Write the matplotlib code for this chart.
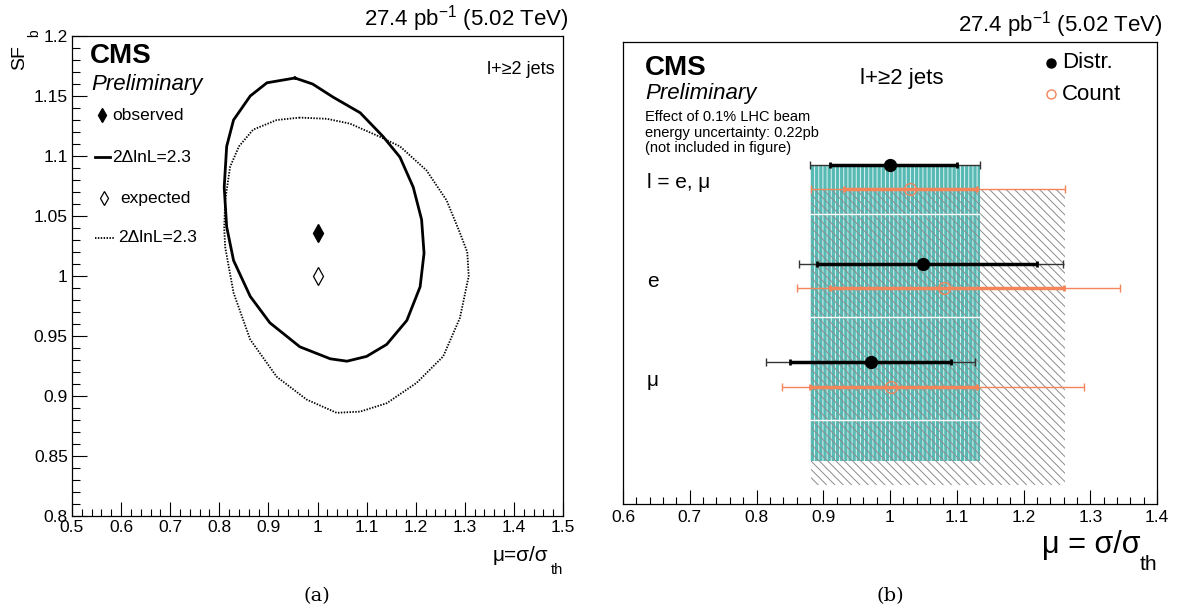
import matplotlib
matplotlib.use("Agg")
import matplotlib.pyplot as plt
from matplotlib.patches import Rectangle
from matplotlib.ticker import MultipleLocator, FuncFormatter
from matplotlib.lines import Line2D
import matplotlib.transforms as mtrans

plt.rcParams['font.family'] = ['Liberation Sans', 'DejaVu Sans']
plt.rcParams['mathtext.fontset'] = 'custom'
plt.rcParams['mathtext.rm'] = 'Liberation Sans'
plt.rcParams['mathtext.it'] = 'Liberation Sans:italic'
plt.rcParams['mathtext.bf'] = 'Liberation Sans:bold'
plt.rcParams['hatch.linewidth'] = 0.7

# ---------------- data: panel (a) -----------------
obs_mu = [0.954, 0.897, 0.863, 0.829, 0.815, 0.810, 0.815, 0.829, 0.863, 0.903,
          0.964, 1.026, 1.060, 1.100, 1.141, 1.182, 1.209, 1.217, 1.212, 1.195,
          1.168, 1.134, 1.087, 1.032, 0.990]
obs_sfb = [1.165, 1.161, 1.150, 1.130, 1.108, 1.074, 1.041, 1.013, 0.983, 0.961,
           0.941, 0.931, 0.929, 0.933, 0.943, 0.963, 0.991, 1.019, 1.047, 1.074,
           1.099, 1.116, 1.136, 1.149, 1.160]
exp_mu = [0.964, 0.917, 0.869, 0.840, 0.822, 0.812, 0.810, 0.812, 0.829, 0.863,
          0.917, 0.978, 1.039, 1.087, 1.141, 1.202, 1.256, 1.290, 1.308, 1.305,
          1.290, 1.263, 1.222, 1.168, 1.127, 1.066, 1.019]
exp_sfb = [1.132, 1.130, 1.122, 1.108, 1.091, 1.063, 1.040, 1.024, 0.986, 0.947,
           0.916, 0.897, 0.886, 0.887, 0.894, 0.911, 0.933, 0.965, 1.000, 1.020,
           1.036, 1.063, 1.088, 1.108, 1.116, 1.127, 1.131]
obs_point = (1.0, 1.036)
exp_point = (1.0, 1.0)

# ---------------- data: panel (b) -----------------
channels = ["l = e, \u03bc", "e", "\u03bc"]
distr_val = [1.000, 1.050, 0.971]
distr_in_lo = [0.910, 0.891, 0.850]
distr_in_hi = [1.101, 1.220, 1.091]
distr_tot_lo = [0.880, 0.863, 0.814]
distr_tot_hi = [1.135, 1.259, 1.127]
count_val = [1.030, 1.081, 1.001]
count_in_lo = [0.931, 0.910, 0.880]
count_in_hi = [1.130, 1.260, 1.130]
count_tot_lo = [0.881, 0.860, 0.838]
count_tot_hi = [1.262, 1.345, 1.291]

W, H = 1182, 615
fig = plt.figure(figsize=(W / 100, H / 100), dpi=100)


def fx(px):
    return px / W


def fy(py):
    return 1 - py / H


fmt = FuncFormatter(lambda v, p: '%g' % round(v, 3))
TICKFS = 12.5

# ================= panel (a) =================
axL = fig.add_axes([fx(72), fy(516), (563 - 72) / W, (516 - 36) / H])
axL.plot(obs_mu + [obs_mu[0]], obs_sfb + [obs_sfb[0]], color='black', lw=2.0)
axL.plot(exp_mu + [exp_mu[0]], exp_sfb + [exp_sfb[0]], color='black', lw=1.3,
         linestyle=(0, (0.8, 0.8)))
axL.plot([obs_point[0]], [obs_point[1]], marker='d', color='black', ms=9, ls='none')
axL.plot([exp_point[0]], [exp_point[1]], marker='d', mfc='white', mec='black',
         mew=0.9, ms=9, ls='none')
axL.set_xlim(0.5, 1.5)
axL.set_ylim(0.8, 1.2)
axL.xaxis.set_major_locator(MultipleLocator(0.1))
axL.xaxis.set_minor_locator(MultipleLocator(0.02))
axL.yaxis.set_major_locator(MultipleLocator(0.05))
axL.yaxis.set_minor_locator(MultipleLocator(0.01))
axL.xaxis.set_major_formatter(fmt)
axL.yaxis.set_major_formatter(fmt)
axL.tick_params(which='both', direction='in', top=False, right=False,
                width=0.8, labelsize=TICKFS)
axL.tick_params(axis='x', which='major', length=10, pad=3)
axL.tick_params(axis='x', which='minor', length=5)
axL.tick_params(axis='y', which='major', length=11, pad=3)
axL.tick_params(axis='y', which='minor', length=6)
for s in axL.spines.values():
    s.set_linewidth(0.9)

fig.text(fx(90), fy(63), "CMS", fontsize=20, fontweight='bold', ha='left', va='baseline')
fig.text(fx(91), fy(90), "Preliminary", fontsize=16, fontstyle='italic', ha='left', va='baseline')
fig.text(fx(555), fy(74), "l+\u22652 jets", fontsize=13, ha='right', va='baseline')

legfs = 12.5
fig.add_artist(Line2D([fx(101.5)], [fy(115)], marker='d', color='black', ms=7, ls='none'))
fig.text(fx(112), fy(115), "observed", fontsize=legfs, ha='left', va='center')
fig.add_artist(Line2D([fx(95), fx(110)], [fy(157), fy(157)], color='black', lw=2.0))
fig.text(fx(112), fy(157), "2\u0394lnL=2.3", fontsize=legfs, ha='left', va='center')
fig.add_artist(Line2D([fx(104)], [fy(198)], marker='d', mfc='white', mec='black',
                      mew=0.9, ms=7, ls='none'))
fig.text(fx(120), fy(198), "expected", fontsize=legfs, ha='left', va='center')
fig.add_artist(Line2D([fx(95), fx(115)], [fy(238), fy(238)], color='black', lw=1.3,
                      linestyle=(0, (0.8, 0.8))))
fig.text(fx(118), fy(238), "2\u0394lnL=2.3", fontsize=legfs, ha='left', va='center')

fig.text(fx(569), fy(26), "27.4 pb$^{-1}$ (5.02 TeV)", fontsize=16, ha='right', va='baseline')
fig.text(fx(11), fy(45), "SF", fontsize=14, rotation=90, ha='left', va='top')
fig.text(fx(27), fy(29), "b", fontsize=10, rotation=90, ha='left', va='top')
# x label (a)
fig.text(fx(548), fy(561), "\u03bc=\u03c3/\u03c3", fontsize=15, ha='right', va='baseline')
fig.text(fx(563), fy(574), "th", fontsize=10.5, ha='right', va='baseline')

# ================= panel (b) =================
axR = fig.add_axes([fx(623), fy(504), (1157 - 623) / W, (504 - 42) / H])
axR.set_xlim(0.6, 1.4)
axR.set_ylim(3.435, -1.246)
rows = [0, 1, 2]
count_off = 0.245
teal = '#56b9b4'
orange = '#f4845a'

# uncertainty bands
axR.add_patch(Rectangle((distr_tot_lo[0], 0), distr_tot_hi[0] - distr_tot_lo[0], 3.0,
                        facecolor=teal, edgecolor='#e3f3f2', hatch='||||', lw=0, zorder=1))
axR.add_patch(Rectangle((count_tot_lo[0], count_off), count_tot_hi[0] - count_tot_lo[0], 3.0,
                        facecolor='none', edgecolor='#8c8c8c', hatch='\\\\\\\\', lw=0, zorder=1.5))
axR.hlines([0.5, 1.54, 2.58], distr_tot_lo[0], distr_tot_hi[0], color='white', lw=1.0, zorder=1.6)

for i, r in enumerate(rows):
    yd = r
    yc = r + count_off
    # Distr.
    axR.errorbar([distr_val[i]], [yd],
                 xerr=[[distr_val[i] - distr_tot_lo[i]], [distr_tot_hi[i] - distr_val[i]]],
                 fmt='none', ecolor='#333333', elinewidth=1.0, capsize=3, capthick=1.0, zorder=3)
    axR.errorbar([distr_val[i]], [yd],
                 xerr=[[distr_val[i] - distr_in_lo[i]], [distr_in_hi[i] - distr_val[i]]],
                 fmt='none', ecolor='black', elinewidth=2.5, capsize=2.5, capthick=2.0, zorder=3.1)
    axR.plot([distr_val[i]], [yd], 'o', color='black', ms=8.5, zorder=3.2)
    # Count
    axR.errorbar([count_val[i]], [yc],
                 xerr=[[count_val[i] - count_tot_lo[i]], [count_tot_hi[i] - count_val[i]]],
                 fmt='none', ecolor=orange, elinewidth=1.0, capsize=3, capthick=1.0, zorder=3)
    axR.errorbar([count_val[i]], [yc],
                 xerr=[[count_val[i] - count_in_lo[i]], [count_in_hi[i] - count_val[i]]],
                 fmt='none', ecolor=orange, elinewidth=2.5, capsize=2.5, capthick=2.0, zorder=3.1)
    axR.plot([count_val[i]], [yc], 'o', mfc='none', mec=orange, mew=1.0, ms=8.5, zorder=3.2)
    axR.text(0.045, r + 0.18, channels[i], fontsize=15, ha='left', va='center',
             transform=mtrans.blended_transform_factory(axR.transAxes, axR.transData))

axR.set_yticks([])
axR.xaxis.set_major_locator(MultipleLocator(0.1))
axR.xaxis.set_minor_locator(MultipleLocator(0.02))
axR.xaxis.set_major_formatter(fmt)
axR.tick_params(which='both', direction='in', top=False, right=False, width=0.8,
                labelsize=TICKFS)
axR.tick_params(axis='x', which='major', length=10, pad=4.5)
axR.tick_params(axis='x', which='minor', length=5)
for s in axR.spines.values():
    s.set_linewidth(0.9)

fig.text(fx(645), fy(75), "CMS", fontsize=20, fontweight='bold', ha='left', va='baseline')
fig.text(fx(645), fy(99), "Preliminary", fontsize=16, fontstyle='italic', ha='left', va='baseline')
fig.text(fx(645), fy(121), "Effect of 0.1% LHC beam", fontsize=10.5, ha='left', va='baseline')
fig.text(fx(645), fy(137), "energy uncertainty: 0.22pb", fontsize=10.5, ha='left', va='baseline')
fig.text(fx(645), fy(152), "(not included in figure)", fontsize=10.5, ha='left', va='baseline')
fig.text(fx(943), fy(84), "l+\u22652 jets", fontsize=16, ha='right', va='baseline')

fig.add_artist(Line2D([fx(1051)], [fy(63)], marker='o', color='black', ms=6.5, ls='none'))
fig.text(fx(1062), fy(63), "Distr.", fontsize=16, ha='left', va='center')
fig.add_artist(Line2D([fx(1051)], [fy(94)], marker='o', mfc='none', mec=orange, mew=1.0,
                      ms=6.5, ls='none'))
fig.text(fx(1062), fy(94), "Count", fontsize=16, ha='left', va='center')

fig.text(fx(1163), fy(31), "27.4 pb$^{-1}$ (5.02 TeV)", fontsize=16, ha='right', va='baseline')
fig.text(fx(1140), fy(553), "\u03bc = \u03c3/\u03c3", fontsize=22, ha='right', va='baseline')
fig.text(fx(1157), fy(570), "th", fontsize=15, ha='right', va='baseline')

# sub-figure captions
fig.text(fx(317), fy(596), "(a)", fontsize=14, family=['DejaVu Serif'], ha='center', va='center')
fig.text(fx(890), fy(596), "(b)", fontsize=14, family=['DejaVu Serif'], ha='center', va='center')

fig.savefig("out.png", dpi=100)
